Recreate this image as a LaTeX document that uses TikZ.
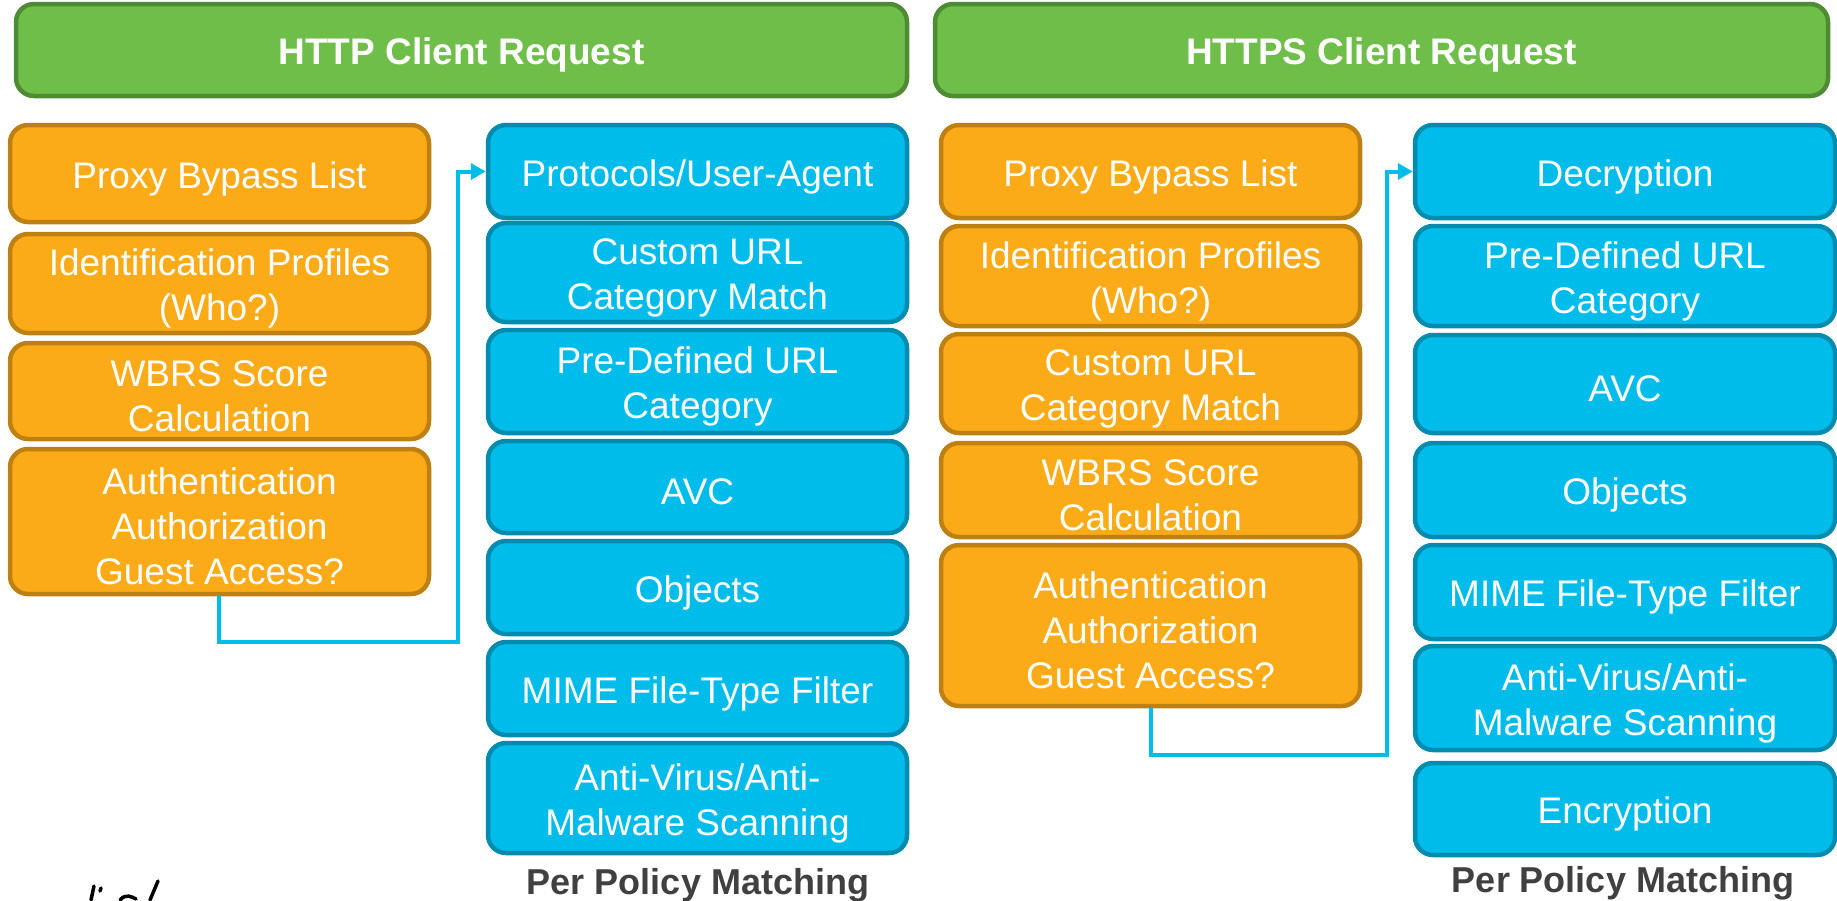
\documentclass[tikz,border=0pt]{standalone}
\usepackage{fontspec}
\setmainfont{Liberation Sans}
\usetikzlibrary{arrows.meta}

\definecolor{hdrfill}{HTML}{70BE4A}
\definecolor{hdredge}{HTML}{4E8C34}
\definecolor{orfill}{HTML}{FBAB18}
\definecolor{oredge}{HTML}{BE8012}
\definecolor{blfill}{HTML}{00BCEB}
\definecolor{bledge}{HTML}{008CAE}
\definecolor{linkcol}{HTML}{00BCEB}
\definecolor{captcol}{HTML}{404040}

% box from corner (x1,y1) to corner (x2,y2), in pixel units,
% with its label set a little below the geometric centre
\newcommand\mkbox[7]{%
  \node[#2, minimum width={#5-#3}, minimum height={#6-#4}]
    (#1) at ({(#3+#5)/2},{(#4+#6)/2}) {};
  \node[#2 text] (#1-t) at ([yshift=-5pt]#1.center) {#7};}

\tikzset{
  basebox/.style={rounded corners=18pt, line width=4.5pt, inner sep=0pt},
  hdrbox/.style={basebox, fill=hdrfill, draw=hdredge},
  orbox/.style={basebox, fill=orfill, draw=oredge},
  blbox/.style={basebox, fill=blfill, draw=bledge},
  basetext/.style={inner sep=0pt, align=center, text=white,
    font=\fontsize{37}{45}\selectfont},
  hdrbox text/.style={basetext, font=\bfseries\fontsize{37}{45}\selectfont},
  orbox text/.style={basetext},
  blbox text/.style={basetext},
  caption/.style={text=captcol, font=\bfseries\fontsize{36}{42}\selectfont},
  link/.style={draw=linkcol, line width=4pt, -{Triangle[length=15pt,width=16pt]}},
  scrawl/.style={line width=3.5pt, line cap=round, black}
}

\begin{document}
\begin{tikzpicture}[x=1pt,y=-1pt]
\useasboundingbox (0,0) rectangle (1837,900);

% headers
\mkbox{hhttp}{hdrbox}{16}{4}{907}{96}{HTTP Client Request}
\mkbox{hhttps}{hdrbox}{935}{4}{1828}{96}{HTTPS Client Request}

% HTTP: pre-policy stages
\mkbox{pbl}{orbox}{10}{125}{429}{222}{Proxy Bypass List}
\mkbox{idl}{orbox}{10}{234}{429}{333}{Identification Profiles\\(Who?)}
\mkbox{wbl}{orbox}{10}{343}{429}{439}{WBRS Score\\Calculation}
\mkbox{aul}{orbox}{10}{449}{429}{594}{Authentication\\Authorization\\Guest Access?}

% HTTP: per-policy stages
\mkbox{prl}{blbox}{488}{125}{907}{218}{Protocols/User-Agent}
\mkbox{cul}{blbox}{488}{223}{907}{322}{Custom URL\\Category Match}
\mkbox{pdl}{blbox}{488}{330}{907}{433}{Pre-Defined URL\\Category}
\mkbox{avl}{blbox}{488}{441}{907}{533}{AVC}
\mkbox{obl}{blbox}{488}{541}{907}{634}{Objects}
\mkbox{mil}{blbox}{488}{642}{907}{735}{MIME File-Type Filter}
\mkbox{anl}{blbox}{488}{743}{907}{853}{Anti-Virus/Anti-\\Malware Scanning}
\node[caption] (capl) at (698,885) {Per Policy Matching};

% HTTPS: pre-policy stages
\mkbox{pbr}{orbox}{941}{125}{1360}{218}{Proxy Bypass List}
\mkbox{idr}{orbox}{941}{226}{1360}{326}{Identification Profiles\\(Who?)}
\mkbox{cur}{orbox}{941}{334}{1360}{433}{Custom URL\\Category Match}
\mkbox{wbr}{orbox}{941}{443}{1360}{537}{WBRS Score\\Calculation}
\mkbox{aur}{orbox}{941}{545}{1360}{706}{Authentication\\Authorization\\Guest Access?}

% HTTPS: per-policy stages
\mkbox{der}{blbox}{1415}{125}{1835}{218}{Decryption}
\mkbox{pdr}{blbox}{1415}{226}{1835}{326}{Pre-Defined URL\\Category}
\mkbox{avr}{blbox}{1415}{335}{1835}{433}{AVC}
\mkbox{obr}{blbox}{1415}{443}{1835}{537}{Objects}
\mkbox{mir}{blbox}{1415}{545}{1835}{639}{MIME File-Type Filter}
\mkbox{anr}{blbox}{1415}{646}{1835}{750}{Anti-Virus/Anti-\\Malware Scanning}
\mkbox{enr}{blbox}{1415}{763}{1835}{855}{Encryption}
\node[caption] (capr) at (1623,883) {Per Policy Matching};

% hand-offs from pre-policy to per-policy stages
\coordinate (la) at (219,642);
\coordinate (lb) at (458,642);
\draw[link] (aul.south -| la) -- (la) -- (lb) -- (lb |- prl.west) -- (prl.west);

\coordinate (ra) at (1151,755);
\coordinate (rb) at (1387,755);
\draw[link] (aur.south -| ra) -- (ra) -- (rb) -- (rb |- der.west) -- (der.west);

% pen marks in the lower left corner
\draw[scrawl] (94,886) -- (91,900);
\draw[scrawl] (101,888) -- (100,891);
\draw[scrawl] (120,900) .. controls (126,893) and (132,897) .. (136,899);
\draw[scrawl] (158,881) -- (150,900);
\end{tikzpicture}
\end{document}
